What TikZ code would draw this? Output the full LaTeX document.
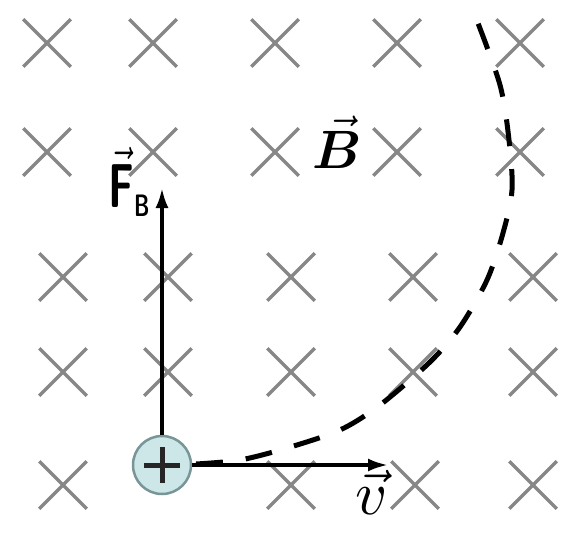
\documentclass[tikz,border=0pt]{standalone}
\usepackage{bm}
\usetikzlibrary{arrows.meta,shapes.misc}
\definecolor{crossgray}{RGB}{135,135,135}
\definecolor{chargefill}{RGB}{205,230,232}
\definecolor{chargeedge}{RGB}{120,150,152}

\begin{document}
\begin{tikzpicture}[
    x=1pt, y=-1pt,
    field/.style={cross out, draw=crossgray, line width=3.5pt, minimum size=44pt, inner sep=0pt},
    vec/.style={line width=3.5pt, -{Latex[length=20pt,width=13pt]}},
    orbit/.style={line width=5pt, dash pattern=on 27pt off 23pt},
    lbl/.style={inner sep=0pt},
    charge/.style={circle, fill=chargefill, draw=chargeedge, line width=2.5pt, minimum size=58pt, inner sep=0pt},
    plusmark/.style={line width=5pt, draw=black!85}
]
\useasboundingbox (0,0) rectangle (564,535);

% field crosses
\foreach \x [count=\i] in {47,153,275,397,520} {
  \node[field] (b1\i) at (\x,43) {};
  \node[field] (b2\i) at (\x,152) {};
}
\foreach \x [count=\i] in {63,168,291,413,533} {
  \node[field] (b3\i) at (\x,277) {};
  \node[field] (b4\i) at (\x,372) {};
}
\foreach \x [count=\i] in {63,291,415,533} {
  \node[field] (b5\i) at (\x,485) {};
}

% trajectory
\draw[orbit] plot[smooth] coordinates {(196,464) (240,460) (287,448) (340,430) (380,405) (430,362) (460,327) (487,280) (503,233) (512,190) (509,140) (500,85) (476,18)};

% charge
\node[charge] (q) at (162,465) {};
\draw[plusmark] ([xshift=-18pt]q.center) -- ([xshift=18pt]q.center);
\draw[plusmark] ([yshift=-18pt]q.center) -- ([yshift=18pt]q.center);

\coordinate (ftip) at (162,188);
\coordinate (vtip) at (388,465);
\draw[vec] (q.north) -- (ftip);
\draw[vec] (q.east) -- (vtip);

% labels
\node[lbl] (flabel) at (130,182) {\scalebox{4.2}[6.2]{$\vec{\mbox{\sffamily\bfseries F}}_{\mbox{\sffamily\bfseries\tiny B}}$}};
\node[lbl] (blabel) at (337,142) {\scalebox{5.4}{$\vec{\bm{B}}$}};
\node[lbl] (vlabel) at (372,492) {\scalebox{6.2}{$\vec{v}$}};

\end{tikzpicture}
\end{document}
